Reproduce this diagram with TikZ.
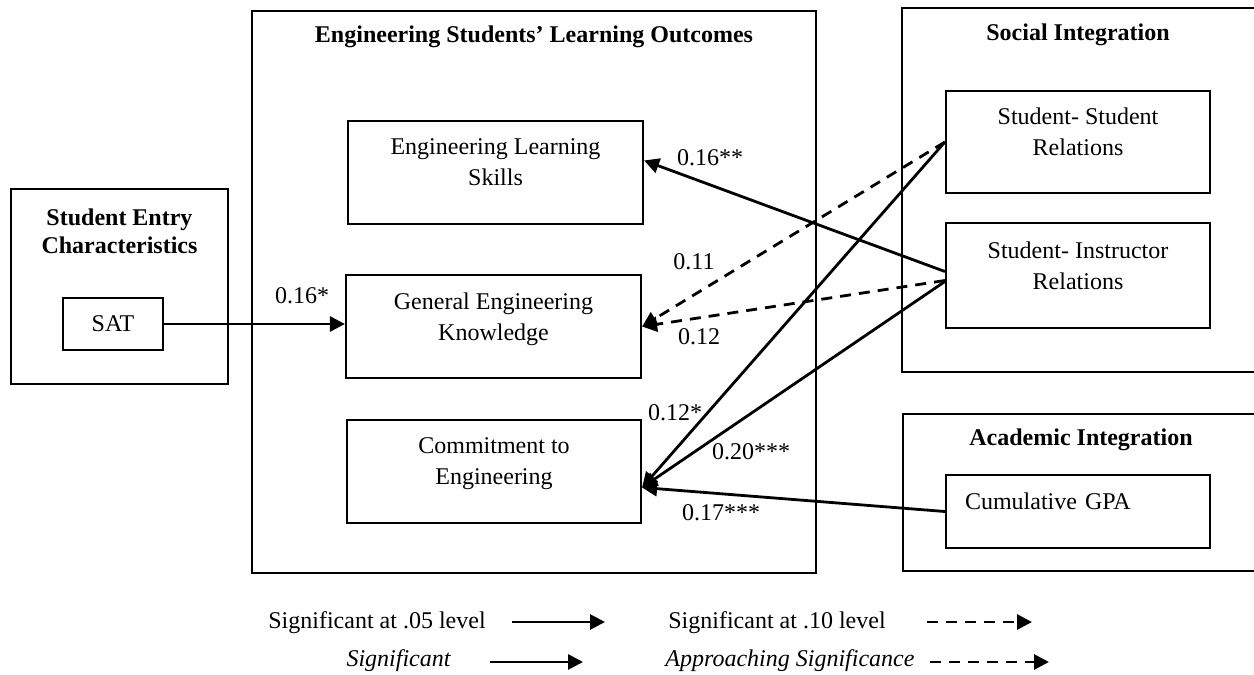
\documentclass[tikz,border=0pt]{standalone}
\usepackage{fontspec}
\setmainfont{Liberation Serif}
\usetikzlibrary{arrows.meta,calc}

\begin{document}
\begin{tikzpicture}[x=1pt,y=-1pt,
  font=\fontsize{24}{31}\selectfont,
  outline/.style={draw,line width=2.2pt,inner sep=0pt},
  box/.style={outline,align=center,text depth=20pt},
  heading/.style={font=\fontsize{24}{28}\selectfont\bfseries,align=center,inner sep=0pt},
  val/.style={inner sep=0pt},
  sig/.style={line width=2.8pt,-{Triangle[length=15pt,width=15pt]}},
  appr/.style={sig,dash pattern=on 11pt off 8pt}]
\useasboundingbox (0,0) rectangle (1254,675);
\clip (0,0) rectangle (1254,675);

%Shape: outer frames
\node[outline,minimum width=217pt,minimum height=195pt] (entry) at (119.5,286.5) {};
\node[outline,minimum width=564pt,minimum height=562pt] (eslo) at (534,292) {};
\node[outline,minimum width=356pt,minimum height=364pt] (soc) at (1080,190) {};
\node[outline,minimum width=355pt,minimum height=157pt] (acad) at (1080.5,492.5) {};

% Text Node: headings
\node[heading] (entryT) at (119.5,231) {Student Entry\\Characteristics};
\node[heading] (esloT) at (534,37) {Engineering Students' Learning Outcomes};
\node[heading] (socT) at (1078,35) {Social Integration};
\node[heading] (acadT) at (1081,440) {Academic Integration};

%Shape: inner boxes
\node[outline,minimum width=100pt,minimum height=52pt] (sat) at (113,324) {SAT};
\node[box,minimum width=295pt,minimum height=103pt] (els) at (495.5,172.5) {Engineering Learning\\Skills};
\node[box,minimum width=295pt,minimum height=103pt] (gek) at (493.5,326.5) {General Engineering\\Knowledge};
\node[box,minimum width=294pt,minimum height=103pt] (com) at (494,471.5) {Commitment to\\Engineering};
\node[box,minimum width=264pt,minimum height=102pt] (ss) at (1078,142) {Student- Student\\Relations};
\node[box,minimum width=264pt,minimum height=105pt] (si) at (1078,275.5) {Student- Instructor\\Relations};
\node[box,minimum width=264pt,minimum height=73pt,text width=226pt,align=left] (gpa) at (1078,511.5) {Cumulative GPA};

\coordinate (elsIn) at ($(els.east)+(0,-12)$);
\coordinate (comIn) at ($(com.east)+(0,16)$);

%Straight Lines: paths
\draw[sig] (sat.east) -- (sat.east -| gek.west);
\draw[sig] ($(si.west)+(0,-4)$) -- (elsIn);
\draw[appr] (ss.west) -- (gek.east);
\draw[appr] ($(si.west)+(0,5)$) -- (gek.east);
\draw[sig] (ss.west) -- (comIn);
\draw[sig] ($(si.west)+(0,6)$) -- (comIn);
\draw[sig] (gpa.west) -- (comIn);

% Text Node: path values
\node[val] (v1) at (302,296) {0.16*};
\node[val] (v2) at (710,158) {0.16**};
\node[val] (v3) at (694,262) {0.11};
\node[val] (v4) at (699,337) {0.12};
\node[val] (v5) at (675,413) {0.12*};
\node[val] (v6) at (751,452) {0.20***};
\node[val] (v7) at (721,513) {0.17***};

% Text Node: legend
\node[val] (leg1) at (377,623) {Significant at .05 level};
\node[val] (leg2) at (777,623) {Significant at .10 level};
\node[val,font=\fontsize{24}{31}\selectfont\itshape] (leg3) at (398.5,661) {Significant};
\node[val,font=\fontsize{24}{31}\selectfont\itshape] (leg4) at (790,661) {Approaching Significance};
\coordinate (l1s) at (512,622);
\coordinate (l1e) at (605,622);
\coordinate (l2s) at (927,622);
\coordinate (l2e) at (1032,622);
\coordinate (l3s) at (490,662);
\coordinate (l3e) at (583,662);
\coordinate (l4s) at (930,662);
\coordinate (l4e) at (1049,662);
\draw[sig] (l1s) -- (l1e);
\draw[appr] (l2s) -- (l2e);
\draw[sig] (l3s) -- (l3e);
\draw[appr] (l4s) -- (l4e);

\end{tikzpicture}
\end{document}
